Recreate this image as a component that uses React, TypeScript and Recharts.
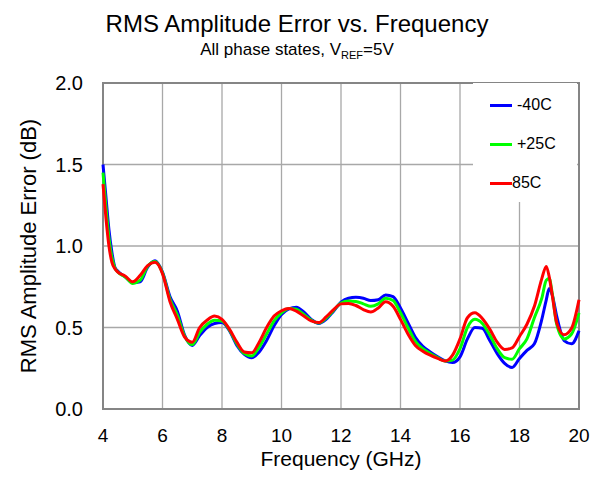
import React from "react"
import { LineChart, Line, XAxis, YAxis, CartesianGrid, ReferenceArea } from "recharts"

const freqs = [
  4.0, 4.1, 4.2, 4.3, 4.4, 4.5, 4.75, 5.0, 5.25, 5.5, 5.75, 6.0, 6.25, 6.5, 6.75, 7.0, 7.25, 7.5, 7.75, 8.0,
  8.25, 8.5, 8.75, 9.0, 9.25, 9.5, 9.75, 10.0, 10.25, 10.5, 10.75, 11.0, 11.25, 11.5, 11.75, 12.0, 12.25, 12.5,
  12.75, 13.0, 13.25, 13.5, 13.75, 14.0, 14.25, 14.5, 14.75, 15.0, 15.25, 15.5, 15.75, 16.0, 16.25, 16.5, 16.75,
  17.0, 17.25, 17.5, 17.75, 18.0, 18.25, 18.5, 18.75, 18.9, 19.0, 19.1, 19.25, 19.5, 19.75, 20.0,
]

const minus40 = [
  1.5, 1.3, 1.1, 0.96, 0.87, 0.845, 0.81, 0.775, 0.78, 0.87, 0.91, 0.84, 0.69, 0.6, 0.45, 0.39, 0.45, 0.5, 0.525, 0.53,
  0.48, 0.39, 0.335, 0.315, 0.35, 0.42, 0.51, 0.58, 0.615, 0.625, 0.595, 0.55, 0.525, 0.55, 0.6, 0.655, 0.68, 0.685,
  0.68, 0.665, 0.67, 0.7, 0.69, 0.62, 0.53, 0.44, 0.385, 0.35, 0.32, 0.295, 0.285, 0.32, 0.43, 0.5, 0.495,
  0.42, 0.34, 0.28, 0.255, 0.31, 0.36, 0.4, 0.55, 0.67, 0.74, 0.7, 0.57, 0.42, 0.4, 0.48,
]

const plus25 = [
  1.45, 1.24, 1.05, 0.93, 0.865, 0.84, 0.81, 0.77, 0.79, 0.875, 0.905, 0.835, 0.675, 0.575, 0.445, 0.395, 0.47, 0.52, 0.545, 0.54,
  0.485, 0.4, 0.34, 0.325, 0.38, 0.46, 0.54, 0.59, 0.617, 0.612, 0.58, 0.545, 0.527, 0.557, 0.605, 0.65, 0.662, 0.66,
  0.645, 0.63, 0.645, 0.68, 0.665, 0.59, 0.5, 0.415, 0.37, 0.34, 0.315, 0.294, 0.3, 0.37, 0.5, 0.55, 0.525,
  0.455, 0.37, 0.315, 0.305, 0.37, 0.43, 0.56, 0.68, 0.79, 0.8, 0.71, 0.52, 0.43, 0.46, 0.59,
]

const plus85 = [
  1.38, 1.17, 1.0, 0.9, 0.86, 0.84, 0.815, 0.78, 0.82, 0.88, 0.9, 0.83, 0.66, 0.55, 0.44, 0.41, 0.5, 0.545, 0.57, 0.55,
  0.49, 0.41, 0.35, 0.345, 0.41, 0.5, 0.57, 0.603, 0.617, 0.6, 0.57, 0.54, 0.53, 0.565, 0.61, 0.645, 0.648, 0.635,
  0.61, 0.595, 0.62, 0.658, 0.63, 0.55, 0.46, 0.39, 0.355, 0.33, 0.31, 0.294, 0.33, 0.43, 0.56, 0.59, 0.555,
  0.49, 0.41, 0.365, 0.375, 0.445, 0.52, 0.63, 0.8, 0.875, 0.81, 0.7, 0.53, 0.455, 0.495, 0.67,
]

const xTicks = [4, 6, 8, 10, 12, 14, 16, 18, 20]
const yTicks = [0, 0.5, 1.0, 1.5, 2.0]

const series = [
  { key: "m40", name: "-40C", color: "#0000ff" },
  { key: "p25", name: "+25C", color: "#00ff00" },
  { key: "p85", name: "85C", color: "#ff0000" },
]

const data = freqs.map((f, i) => ({ f, m40: minus40[i], p25: plus25[i], p85: plus85[i] }))

const font = "Arial, 'Liberation Sans', sans-serif"

function LegendBox() {
  return (
    <div
      style={{
        position: "absolute",
        left: 473,
        top: 83,
        width: 104,
        height: 119,
        background: "#fff",
        fontFamily: font,
      }}
    >
      {series.map((s, i) => (
        <div key={s.key} style={{ position: "absolute", left: 17, top: 11 + i * 39, height: 22, display: "flex", alignItems: "center" }}>
          <div style={{ width: 22, height: 3, background: s.color }} />
          <span style={{ fontSize: 16, marginLeft: i === 2 ? 0 : 5, color: "#000" }}>{s.name}</span>
        </div>
      ))}
    </div>
  )
}

export default function App() {
  return (
    <div style={{ position: "absolute", left: 0, top: 0, width: 602, height: 481, background: "#fff" }}>
      <LineChart width={602} height={481} data={data} margin={{ top: 83, right: 23, bottom: 32, left: 43 }}>
        <CartesianGrid stroke="#a8a8a8" strokeWidth={1.3} />
        <XAxis
          dataKey="f"
          type="number"
          domain={[4, 20]}
          ticks={xTicks}
          height={40}
          axisLine={false}
          tickLine={false}
          tickSize={0}
          tickMargin={20}
          tick={{ fill: "#000", fontSize: 19, fontFamily: font }}
        />
        <YAxis
          type="number"
          domain={[0, 2]}
          ticks={yTicks}
          width={60}
          axisLine={false}
          tickLine={false}
          tickSize={0}
          tickMargin={20}
          tickFormatter={(v: number) => v.toFixed(1)}
          tick={{ fill: "#000", fontSize: 20, fontFamily: font }}
        />
        <ReferenceArea x1={4} x2={20} y1={0} y2={2} fill="none" stroke="#858585" strokeWidth={2} />
        {series.map((s) => (
          <Line
            key={s.key}
            type="monotone"
            dataKey={s.key}
            name={s.name}
            stroke={s.color}
            strokeWidth={3}
            dot={false}
            isAnimationActive={false}
          />
        ))}
      </LineChart>
      <LegendBox />
      <svg width={602} height={481} style={{ position: "absolute", left: 0, top: 0, pointerEvents: "none" }} fontFamily={font}>
        <text x={297} y={32} textAnchor="middle" fontSize={24} fill="#000">
          RMS Amplitude Error vs. Frequency
        </text>
        <text x={297} y={55} textAnchor="middle" fontSize={17} fill="#000">
          All phase states, V
          <tspan dy={4} fontSize={11}>REF</tspan>
          <tspan dy={-4}>=5V</tspan>
        </text>
        <text x={341} y={466} textAnchor="middle" fontSize={21} fill="#000">
          Frequency (GHz)
        </text>
        <text x={36} y={246} textAnchor="middle" fontSize={22} fill="#000" transform="rotate(-90 36 246)">
          RMS Amplitude Error (dB)
        </text>
      </svg>
    </div>
  )
}
